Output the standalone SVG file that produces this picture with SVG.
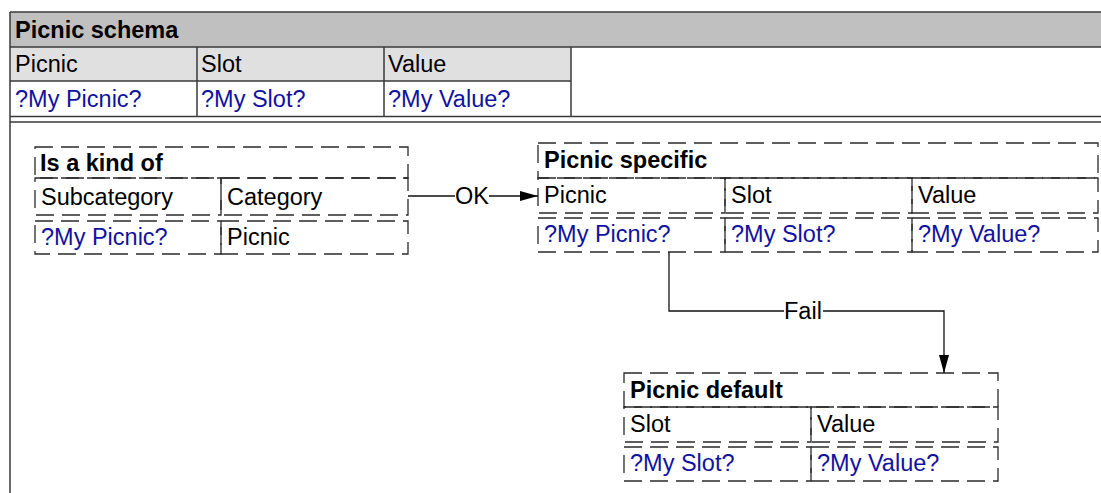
<svg xmlns="http://www.w3.org/2000/svg" width="1101" height="493" viewBox="0 0 1101 493">
  <style>
    text { font-family: "Liberation Sans", Arial, sans-serif; font-size: 23.5px; fill: #000; }
    .b { font-weight: bold; }
    .v { fill: #1212a0; }
    .frame { fill: none; stroke: #3a3a3a; stroke-width: 1.5; }
    .cell { fill: none; stroke: #2a2a2a; stroke-width: 1.3; stroke-dasharray: 18 8; }
    .wire { fill: none; stroke: #111; stroke-width: 1.3; }
  </style>
  <defs>
    <marker id="arrow" viewBox="0 0 18 10" refX="18" refY="5" markerWidth="18" markerHeight="10" markerUnits="userSpaceOnUse" orient="auto">
      <path d="M0,0 L18,5 L0,10 z" fill="#000"/>
    </marker>
  </defs>

  <!-- schema frame -->
  <g id="schema">
    <rect x="10" y="12" width="1100" height="35" fill="#c0c0c0"/>
    <rect x="10" y="47" width="561" height="34" fill="#e0e0e0"/>
    <rect x="10" y="81" width="561" height="35" fill="#fff"/>
    <path class="frame" d="M10,12 H1101 M10,12 V493 M10,47 H1101 M10,81 H571 M10,116.5 H1101 M10,122 H1101 M197,47 V116.5 M384,47 V116.5 M571,47 V116.5"/>
    <text class="b" x="15" y="38">Picnic schema</text>
    <text x="15" y="72">Picnic</text>
    <text x="201" y="72">Slot</text>
    <text x="388" y="72">Value</text>
    <text class="v" x="15" y="107">?My Picnic?</text>
    <text class="v" x="201" y="107">?My Slot?</text>
    <text class="v" x="388" y="107">?My Value?</text>
  </g>

  <!-- Is a kind of -->
  <g id="is-a-kind-of">
    <rect class="cell" x="35" y="147" width="373" height="31"/>
    <rect class="cell" x="35" y="178" width="186" height="37"/>
    <rect class="cell" x="221" y="178" width="187" height="37"/>
    <rect class="cell" x="35" y="221" width="186" height="33"/>
    <rect class="cell" x="221" y="221" width="187" height="33"/>
    <text class="b" x="40" y="171">Is a kind of</text>
    <text x="41" y="205">Subcategory</text>
    <text x="227" y="205">Category</text>
    <text class="v" x="41" y="245">?My Picnic?</text>
    <text x="227" y="245">Picnic</text>
  </g>

  <!-- Picnic specific -->
  <g id="picnic-specific">
    <rect class="cell" x="538" y="143" width="560" height="35"/>
    <rect class="cell" x="538" y="178" width="187" height="35"/>
    <rect class="cell" x="725" y="178" width="187" height="35"/>
    <rect class="cell" x="912" y="178" width="186" height="35"/>
    <rect class="cell" x="538" y="218" width="187" height="34"/>
    <rect class="cell" x="725" y="218" width="187" height="34"/>
    <rect class="cell" x="912" y="218" width="186" height="34"/>
    <text class="b" x="544" y="168">Picnic specific</text>
    <text x="544" y="203">Picnic</text>
    <text x="731" y="203">Slot</text>
    <text x="918" y="203">Value</text>
    <text class="v" x="544" y="242">?My Picnic?</text>
    <text class="v" x="731" y="242">?My Slot?</text>
    <text class="v" x="918" y="242">?My Value?</text>
  </g>

  <!-- Picnic default -->
  <g id="picnic-default">
    <rect class="cell" x="624" y="373" width="374" height="34"/>
    <rect class="cell" x="624" y="407" width="187" height="35"/>
    <rect class="cell" x="811" y="407" width="187" height="35"/>
    <rect class="cell" x="624" y="447" width="187" height="34"/>
    <rect class="cell" x="811" y="447" width="187" height="34"/>
    <text class="b" x="630" y="398">Picnic default</text>
    <text x="630" y="432">Slot</text>
    <text x="817" y="432">Value</text>
    <text class="v" x="630" y="471">?My Slot?</text>
    <text class="v" x="817" y="471">?My Value?</text>
  </g>

  <!-- connectors -->
  <g id="connectors">
    <path class="wire" d="M408,196 H455"/>
    <path class="wire" d="M489,196 H538" marker-end="url(#arrow)"/>
    <text x="455" y="204">OK</text>
    <path class="wire" d="M669,252 V311 H784"/>
    <path class="wire" d="M823,311 H944 V373" marker-end="url(#arrow)"/>
    <text x="784" y="319">Fail</text>
  </g>
</svg>
